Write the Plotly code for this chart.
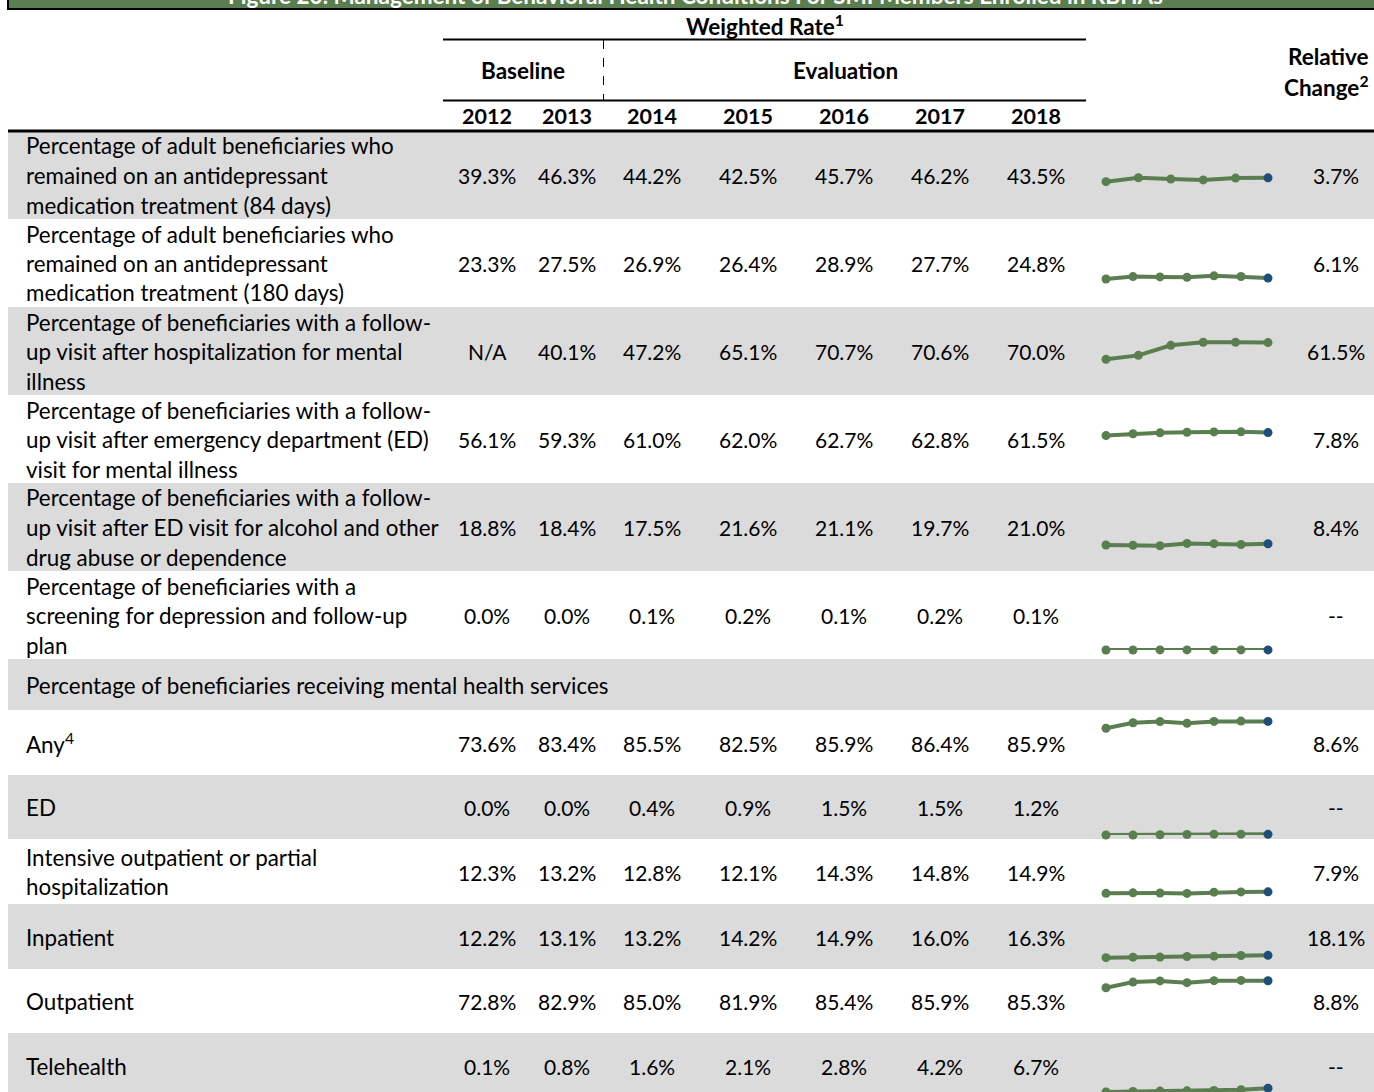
import plotly.graph_objects as go

W, H = 1374, 1092

# ---------------- data ----------------
years = [2012, 2013, 2014, 2015, 2016, 2017, 2018]

row_labels = [
    ["Percentage of adult beneficiaries who", "remained on an antidepressant", "medication treatment (84 days)"],
    ["Percentage of adult beneficiaries who", "remained on an antidepressant", "medication treatment (180 days)"],
    ["Percentage of beneficiaries with a follow-", "up visit after hospitalization for mental", "illness"],
    ["Percentage of beneficiaries with a follow-", "up visit after emergency department (ED)", "visit for mental illness"],
    ["Percentage of beneficiaries with a follow-", "up visit after ED visit for alcohol and other", "drug abuse or dependence"],
    ["Percentage of beneficiaries with a", "screening for depression and follow-up", "plan"],
    ["Percentage of beneficiaries receiving mental health services"],
    ["Any<sup>4</sup>"],
    ["ED"],
    ["Intensive outpatient or partial", "hospitalization"],
    ["Inpatient"],
    ["Outpatient"],
    ["Telehealth"],
]

rate_2012 = [39.3, 23.3, None, 56.1, 18.8, 0.0, None, 73.6, 0.0, 12.3, 12.2, 72.8, 0.1]
rate_2013 = [46.3, 27.5, 40.1, 59.3, 18.4, 0.0, None, 83.4, 0.0, 13.2, 13.1, 82.9, 0.8]
rate_2014 = [44.2, 26.9, 47.2, 61.0, 17.5, 0.1, None, 85.5, 0.4, 12.8, 13.2, 85.0, 1.6]
rate_2015 = [42.5, 26.4, 65.1, 62.0, 21.6, 0.2, None, 82.5, 0.9, 12.1, 14.2, 81.9, 2.1]
rate_2016 = [45.7, 28.9, 70.7, 62.7, 21.1, 0.1, None, 85.9, 1.5, 14.3, 14.9, 85.4, 2.8]
rate_2017 = [46.2, 27.7, 70.6, 62.8, 19.7, 0.2, None, 86.4, 1.5, 14.8, 16.0, 85.9, 4.2]
rate_2018 = [43.5, 24.8, 70.0, 61.5, 21.0, 0.1, None, 85.9, 1.2, 14.9, 16.3, 85.3, 6.7]
rel_change = [3.7, 6.1, 61.5, 7.8, 8.4, None, None, 8.6, None, 7.9, 18.1, 8.8, None]
section_row = [False, False, False, False, False, False, True, False, False, False, False, False, False]

# sparkline contents as drawn in the source (last year shown, and whether the last point is highlighted)
spark_last_year = [2017, 2018, 2018, 2018, 2018, 2018, None, 2018, 2018, 2018, 2018, 2018, 2018]
spark_highlight_last = [True, True, False, True, True, True, None, True, True, True, True, True, True]

rates = [rate_2012, rate_2013, rate_2014, rate_2015, rate_2016, rate_2017, rate_2018]

# ---------------- layout geometry (pixels) ----------------
row_edges = [131, 219, 307, 395, 483, 571, 659, 710, 775, 839, 904, 969, 1033, 1098]
col_x = [487, 567, 652, 748, 844, 940, 1036]
rel_x = 1336
label_x = 24
spark_x0, spark_x1 = 1106, 1268
spark_base = [203.7, 292, 381.8, 467, 555.5, 650, None, 769.5, 835, 900.2, 964.5, 1028.5, 1092]
spark_px_per_100 = 56

GREEN = "#5B7E50"
BLUE = "#1F4E79"
GRAY = "#DBDBDB"
FONT = "Lato, Carlito, Calibri, sans-serif"
FS_LABEL = 22.4
FS_VAL = 21
FS_HEAD = 22.5
FS_YEAR = 21.5


def px(x):
    return x / W


def py(y):
    return 1 - y / H


fig = go.Figure()
shapes = []
ann = []


def text(x, y, s, size=FS_VAL, bold=False, anchor="center", color="black"):
    if bold:
        s = "<b>" + s + "</b>"
    ann.append(dict(x=px(x), y=py(y), xref="paper", yref="paper", text=s, showarrow=False,
                    xanchor=anchor, yanchor="middle", align=anchor if anchor != "center" else "center",
                    font=dict(family=FONT, size=size, color=color)))


# title bar (cut at the top of the page)
shapes.append(dict(type="rect", xref="paper", yref="paper", x0=px(8), x1=px(W + 10), y0=py(9), y1=py(-30),
                   fillcolor=GREEN, line=dict(color="black", width=2), layer="below"))
ann.append(dict(x=px(695), y=py(-5), xref="paper", yref="paper",
                text="<b>Figure 20. Management of Behavioral Health Conditions For SMI Members Enrolled in RBHAs</b>",
                showarrow=False, xanchor="center", yanchor="middle",
                font=dict(family=FONT, size=FS_HEAD, color="white")))

# header
text(765, 25, "Weighted Rate<sup>1</sup>", size=FS_HEAD, bold=True)
shapes.append(dict(type="line", xref="paper", yref="paper", x0=px(443), x1=px(1086), y0=py(39.5), y1=py(39.5),
                   line=dict(color="black", width=2)))
shapes.append(dict(type="line", xref="paper", yref="paper", x0=px(443), x1=px(1086), y0=py(100.5), y1=py(100.5),
                   line=dict(color="black", width=2)))
shapes.append(dict(type="line", xref="paper", yref="paper", x0=px(603.5), x1=px(603.5), y0=py(40), y1=py(100),
                   line=dict(color="black", width=1, dash="dash")))
text(523, 70, "Baseline", size=FS_HEAD, bold=True)
text(845, 70, "Evaluation", size=FS_HEAD, bold=True)
text(1371, 56, "Relative", size=FS_HEAD, bold=True, anchor="right")
text(1371, 86, "Change<sup>2</sup>", size=FS_HEAD, bold=True, anchor="right")
for i, yr in enumerate(years):
    text(col_x[i], 116, str(yr), size=FS_YEAR, bold=True)

# row backgrounds
for r in range(len(row_labels)):
    if r % 2 == 0:
        shapes.append(dict(type="rect", xref="paper", yref="paper", x0=px(8), x1=px(W + 5),
                           y0=py(row_edges[r + 1]), y1=py(row_edges[r]),
                           fillcolor=GRAY, line=dict(width=0), layer="below"))

shapes.append(dict(type="line", xref="paper", yref="paper", x0=px(8), x1=px(W + 5), y0=py(131), y1=py(131),
                   line=dict(color="black", width=3)))

# rows
for r, lines in enumerate(row_labels):
    mid = (row_edges[r] + row_edges[r + 1]) / 2 + 0.5
    n = len(lines)
    for k, line in enumerate(lines):
        text(label_x, mid + (k - (n - 1) / 2) * 29.5, line, size=FS_LABEL, anchor="left")
    if section_row[r]:
        continue
    for c in range(len(years)):
        v = rates[c][r]
        text(col_x[c], mid, "N/A" if v is None else f"{v:.1f}%")
    rc = rel_change[r]
    text(rel_x, mid, "--" if rc is None else f"{rc:.1f}%")

# sparklines
ax_i = 1
for r in range(len(row_labels)):
    if section_row[r]:
        continue
    xs, ys = [], []
    for c, yr in enumerate(years):
        v = rates[c][r]
        if v is None or yr > spark_last_year[r]:
            continue
        xs.append(yr)
        ys.append(v)
    colors = [GREEN] * len(xs)
    if spark_highlight_last[r]:
        colors[-1] = BLUE
    base = spark_base[r]
    xa = "x" if ax_i == 1 else f"x{ax_i}"
    ya = "y" if ax_i == 1 else f"y{ax_i}"
    fig.add_trace(go.Scatter(x=xs, y=ys, mode="lines+markers", xaxis=xa, yaxis=ya,
                             line=dict(color=GREEN, width=4),
                             marker=dict(color=colors, size=9),
                             cliponaxis=False, showlegend=False, hoverinfo="skip"))
    key = "" if ax_i == 1 else str(ax_i)
    lo = max(0.0, py(base))
    hi = py(base - spark_px_per_100)
    fig.layout[f"xaxis{key}"] = dict(domain=[px(spark_x0), px(spark_x1)], range=[xs[0], xs[-1]],
                                     visible=False, fixedrange=True)
    fig.layout[f"yaxis{key}"] = dict(domain=[lo, hi], range=[0, 100], visible=False, fixedrange=True)
    ax_i += 1

fig.update_layout(width=W, height=H, margin=dict(l=0, r=0, t=0, b=0),
                  paper_bgcolor="white", plot_bgcolor="rgba(0,0,0,0)",
                  shapes=shapes, annotations=ann, showlegend=False)

fig.write_html("out.html", config={"displayModeBar": False},
               post_script="document.body.style.margin='0';document.body.style.overflow='hidden';")
